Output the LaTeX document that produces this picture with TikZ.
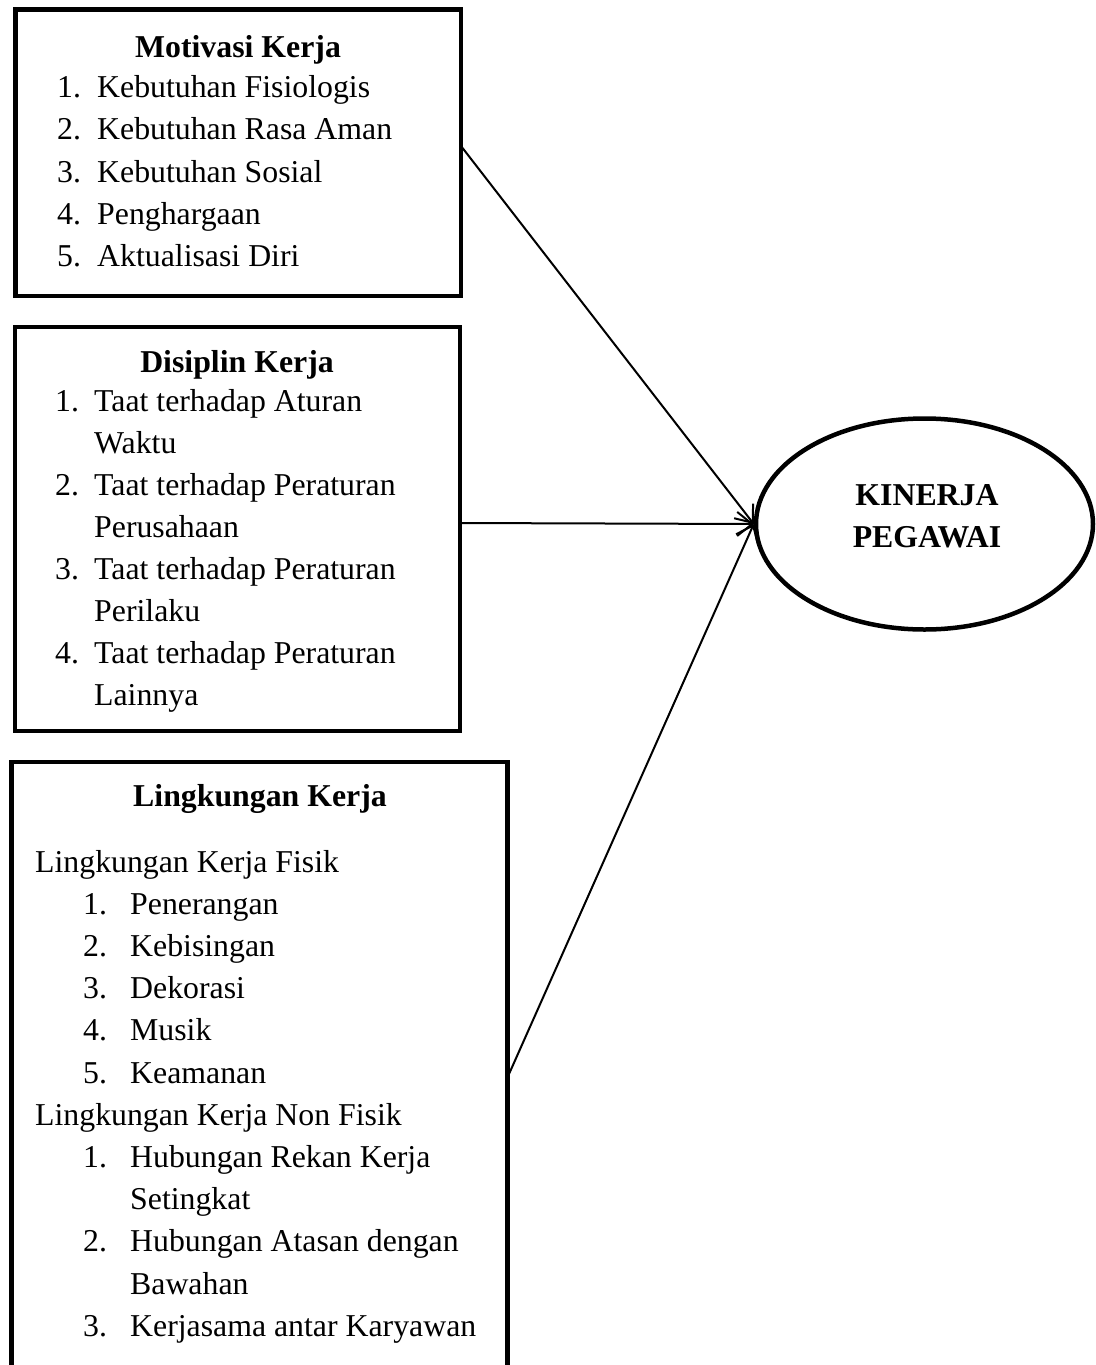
\documentclass[tikz,border=0pt]{standalone}
\usepackage{fontspec}
\setmainfont{Liberation Serif}
\usetikzlibrary{arrows.meta,shapes.geometric}
\begin{document}
\begin{tikzpicture}[x=1pt,y=-1pt,
  box/.style={draw,line width=4.5pt,rectangle,inner sep=0pt},
  txt/.style={anchor=base west,inner sep=0pt,font=\fontsize{31.8}{38}\selectfont},
  ttl/.style={anchor=base,inner sep=0pt,font=\fontsize{31.8}{38}\selectfont\bfseries},
  conn/.style={line width=2pt,-{Straight Barb[length=15pt,width=24pt]}}]
\useasboundingbox (0,0) rectangle (1095,1365);
\fill[white] (0,0) rectangle (1095,1365);
% boxes
\node[box,minimum width=445.5pt,minimum height=286.5pt] (b1) at (238.25,152.75) {};
\node[box,minimum width=445pt,minimum height=404pt] (b2) at (237.5,529) {};
\node[box,minimum width=496pt,minimum height=660pt] (b3) at (259.5,1092) {};
% ellipse
\node[draw,ellipse,line width=4.5pt,inner sep=0pt,minimum width=337pt,minimum height=211pt] (kp) at (924.5,524) {};
\node[ttl] (kp1) at (927,505) {KINERJA};
\node[ttl] (kp2) at (927,547) {PEGAWAI};
% box 1 text
\node[ttl] (t1) at (238,57) {Motivasi Kerja};
\node[txt] (a1n) at (57,97) {1.}; \node[txt] (a1) at (97,97) {Kebutuhan Fisiologis};
\node[txt] (a2n) at (57,139) {2.}; \node[txt] (a2) at (97,139) {Kebutuhan Rasa Aman};
\node[txt] (a3n) at (57,182) {3.}; \node[txt] (a3) at (97,182) {Kebutuhan Sosial};
\node[txt] (a4n) at (57,224) {4.}; \node[txt] (a4) at (97,224) {Penghargaan};
\node[txt] (a5n) at (57,266) {5.}; \node[txt] (a5) at (97,266) {Aktualisasi Diri};
% box 2 text
\node[ttl] (t2) at (237,372) {Disiplin Kerja};
\node[txt] (d1n) at (55,411) {1.}; \node[txt] (d1) at (94,411) {Taat terhadap Aturan};
\node[txt] (d1b) at (94,453) {Waktu};
\node[txt] (d2n) at (55,495) {2.}; \node[txt] (d2) at (94,495) {Taat terhadap Peraturan};
\node[txt] (d2b) at (94,537) {Perusahaan};
\node[txt] (d3n) at (55,579) {3.}; \node[txt] (d3) at (94,579) {Taat terhadap Peraturan};
\node[txt] (d3b) at (94,621) {Perilaku};
\node[txt] (d4n) at (55,663) {4.}; \node[txt] (d4) at (94,663) {Taat terhadap Peraturan};
\node[txt] (d4b) at (94,705) {Lainnya};
% box 3 text
\node[ttl] (t3) at (260,806) {Lingkungan Kerja};
\node[txt] (f0) at (35,872) {Lingkungan Kerja Fisik};
\node[txt] (f1n) at (83,914) {1.}; \node[txt] (f1) at (130,914) {Penerangan};
\node[txt] (f2n) at (83,956) {2.}; \node[txt] (f2) at (130,956) {Kebisingan};
\node[txt] (f3n) at (83,998) {3.}; \node[txt] (f3) at (130,998) {Dekorasi};
\node[txt] (f4n) at (83,1040) {4.}; \node[txt] (f4) at (130,1040) {Musik};
\node[txt] (f5n) at (83,1083) {5.}; \node[txt] (f5) at (130,1083) {Keamanan};
\node[txt] (n0) at (35,1125) {Lingkungan Kerja Non Fisik};
\node[txt] (n1n) at (83,1167) {1.}; \node[txt] (n1) at (130,1167) {Hubungan Rekan Kerja};
\node[txt] (n1b) at (130,1209) {Setingkat};
\node[txt] (n2n) at (83,1251) {2.}; \node[txt] (n2) at (130,1251) {Hubungan Atasan dengan};
\node[txt] (n2b) at (130,1294) {Bawahan};
\node[txt] (n3n) at (83,1336) {3.}; \node[txt] (n3) at (130,1336) {Kerjasama antar Karyawan};
% connectors
\coordinate (s1) at (461,146);
\coordinate (s2) at (460,523);
\coordinate (s3) at (509,1074);
\draw[conn] (s1) -- (kp.west);
\draw[conn] (s2) -- (kp.west);
\draw[conn] (s3) -- (kp.west);
\end{tikzpicture}
\end{document}
